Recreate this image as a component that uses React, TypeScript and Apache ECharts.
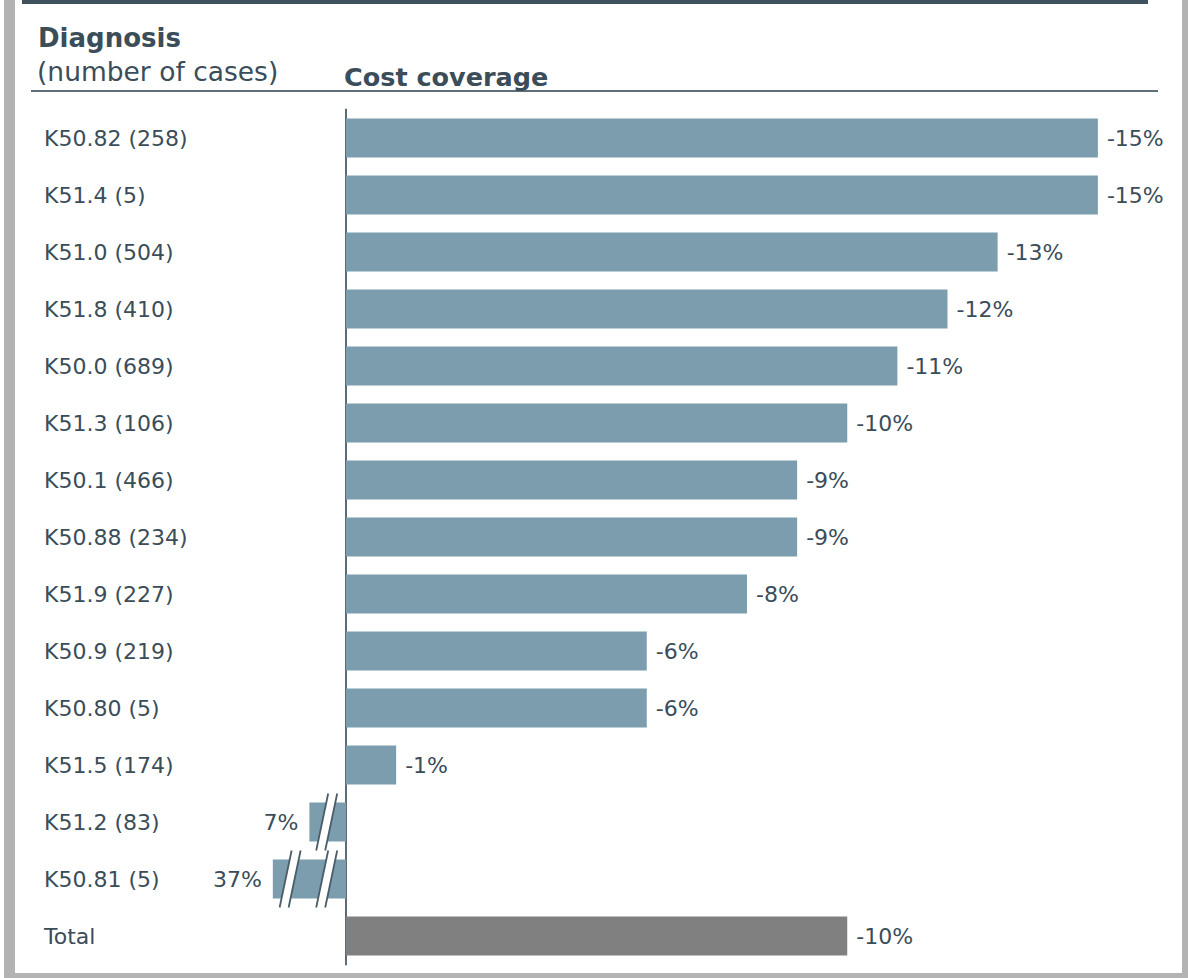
import React, { useEffect, useRef } from "react";
import * as echarts from "echarts";

const categories = [
  "K50.82 (258)",
  "K51.4 (5)",
  "K51.0 (504)",
  "K51.8 (410)",
  "K50.0 (689)",
  "K51.3 (106)",
  "K50.1 (466)",
  "K50.88 (234)",
  "K51.9 (227)",
  "K50.9 (219)",
  "K50.80 (5)",
  "K51.5 (174)",
  "K51.2 (83)",
  "K50.81 (5)",
  "Total",
];
const coverage = [-15, -15, -13, -12, -11, -10, -9, -9, -8, -6, -6, -1, 7, 37, -10];

const titleDiagnosis = "Diagnosis";
const titleCases = "(number of cases)";
const titleCoverage = "Cost coverage";

// styling
const BAR_COLOR = "#7b9dae";
const TOTAL_COLOR = "#808080";
const TEXT_COLOR = "#3a4d59";
const LINE_COLOR = "#5a6c77";
const LABEL_FONT = "'DejaVu Sans', sans-serif";
const TITLE_FONT = "'DejaVu Sans', sans-serif";
// a positive value is off the scale: drawn as a stub with break marks
const BREAK_UNIT = 0.73; // stub length per break, in axis units

export default function App() {
  const ref = useRef<HTMLDivElement>(null);

  useEffect(() => {
    if (!ref.current) return;
    const chart = echarts.init(ref.current, null, { renderer: "svg" });

    const renderItem = (params: any, api: any) => {
      const v = api.value(0);
      const i = api.value(1);
      const isTotal = categories[i] === "Total";
      const band = api.size([0, 1])[1];
      const h = band * 0.685;
      const start = api.coord([0, i]);
      const cy = start[1];
      const fill = isTotal ? TOTAL_COLOR : BAR_COLOR;
      const children: any[] = [];
      if (v <= 0) {
        const end = api.coord([v, i]);
        children.push({
          type: "rect",
          shape: { x: start[0], y: cy - h / 2, width: end[0] - start[0], height: h },
          style: { fill },
        });
        children.push({
          type: "text",
          x: end[0] + 9,
          y: cy,
          style: {
            text: `${v}%`,
            fill: TEXT_COLOR,
            font: `22px ${LABEL_FONT}`,
            align: "left",
            verticalAlign: "middle",
          },
        });
      } else {
        const breaks = v >= 10 ? 2 : 1;
        const disp = BREAK_UNIT * breaks;
        const end = api.coord([disp, i]);
        children.push({
          type: "rect",
          shape: { x: end[0], y: cy - h / 2, width: start[0] - end[0], height: h },
          style: { fill },
        });
        const seg = (start[0] - end[0]) / breaks;
        for (let j = 0; j < breaks; j++) {
          const cx = start[0] - seg * (j + 0.5) - 1;
          const hh = h / 2 + 9;
          const sl = 6;
          const g = 4.5;
          children.push({
            type: "polygon",
            shape: {
              points: [
                [cx - g - sl, cy + hh],
                [cx - g + sl, cy - hh],
                [cx + g + sl, cy - hh],
                [cx + g - sl, cy + hh],
              ],
            },
            style: { fill: "#ffffff" },
          });
          children.push({
            type: "line",
            shape: { x1: cx - g - sl, y1: cy + hh, x2: cx - g + sl, y2: cy - hh },
            style: { stroke: "#4b5d68", lineWidth: 1.8 },
          });
          children.push({
            type: "line",
            shape: { x1: cx + g - sl, y1: cy + hh, x2: cx + g + sl, y2: cy - hh },
            style: { stroke: "#4b5d68", lineWidth: 1.8 },
          });
        }
        children.push({
          type: "text",
          x: end[0] - 11,
          y: cy,
          style: {
            text: `${v}%`,
            fill: TEXT_COLOR,
            font: `22px ${LABEL_FONT}`,
            align: "right",
            verticalAlign: "middle",
          },
        });
      }
      return { type: "group", children };
    };

    chart.setOption({
      animation: false,
      backgroundColor: "#ffffff",
      grid: { left: 346, top: 109.5, width: 802, height: 855, containLabel: false },
      xAxis: {
        type: "value",
        inverse: true,
        min: -16,
        max: 0,
        show: false,
      },
      yAxis: {
        type: "category",
        inverse: true,
        data: categories,
        axisLine: { show: true, onZero: true, lineStyle: { color: LINE_COLOR, width: 2 } },
        axisTick: { show: false },
        axisLabel: {
          margin: 302,
          align: "left",
          color: TEXT_COLOR,
          fontSize: 22,
          fontFamily: LABEL_FONT,
        },
        splitLine: { show: false },
      },
      series: [
        {
          type: "custom",
          renderItem,
          clip: false,
          encode: { x: 0, y: 1 },
          data: coverage.map((v, i) => [v, i]),
          z: 3,
        },
      ],
      graphic: [
        { type: "rect", shape: { x: 4, y: 0, width: 11, height: 978 }, style: { fill: "#b3b3b3" }, silent: true },
        { type: "rect", shape: { x: 4, y: 973, width: 1184, height: 5 }, style: { fill: "#b3b3b3" }, silent: true },
        { type: "rect", shape: { x: 1182, y: 0, width: 6, height: 978 }, style: { fill: "#b3b3b3" }, silent: true },
        { type: "rect", shape: { x: 22, y: 0, width: 1126, height: 4 }, style: { fill: "#3f515c" }, silent: true },
        { type: "rect", shape: { x: 31, y: 90, width: 1127, height: 2 }, style: { fill: "#5e6f79" }, silent: true },
        {
          type: "text",
          x: 38,
          y: 38,
          style: {
            text: titleDiagnosis,
            fill: TEXT_COLOR,
            font: `bold 26px ${TITLE_FONT}`,
            align: "left",
            verticalAlign: "middle",
          },
        },
        {
          type: "text",
          x: 37,
          y: 71,
          style: {
            text: titleCases,
            fill: TEXT_COLOR,
            font: `26.5px ${TITLE_FONT}`,
            align: "left",
            verticalAlign: "middle",
          },
        },
        {
          type: "text",
          x: 344,
          y: 77,
          style: {
            text: titleCoverage,
            fill: TEXT_COLOR,
            font: `bold 25.5px ${TITLE_FONT}`,
            align: "left",
            verticalAlign: "middle",
          },
        },
      ],
    });

    return () => chart.dispose();
  }, []);

  return (
    <div
      ref={ref}
      style={{ position: "fixed", left: 0, top: 0, width: 1188, height: 978 }}
    />
  );
}
